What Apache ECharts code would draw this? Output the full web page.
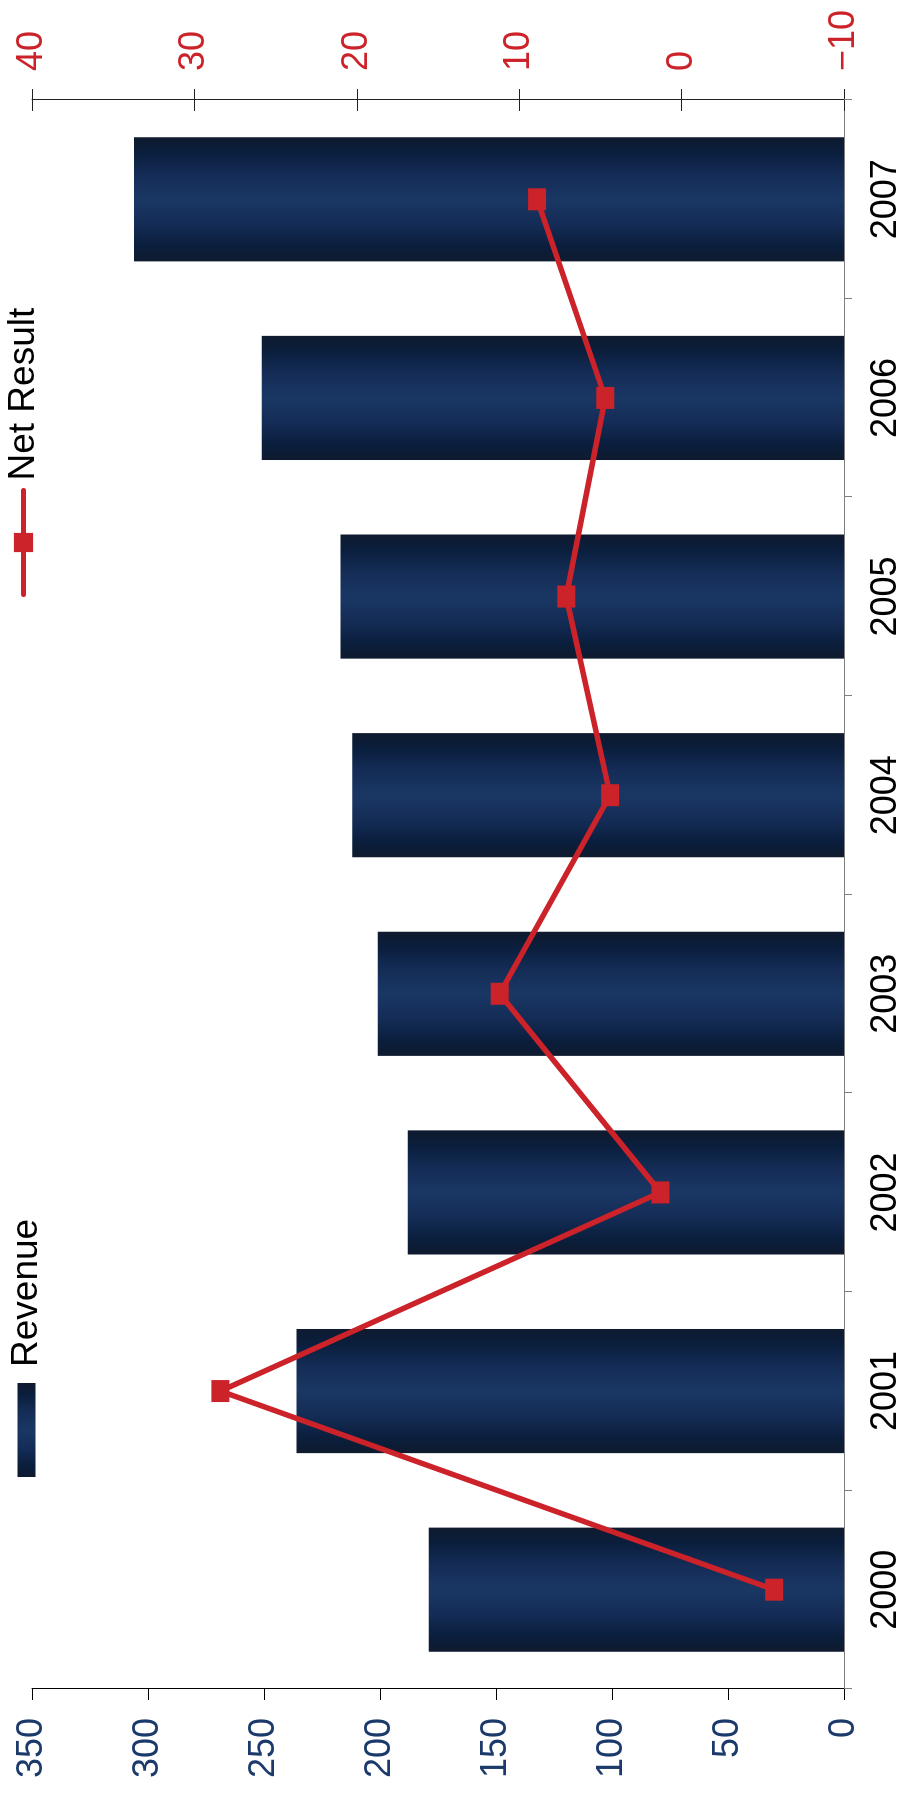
<!DOCTYPE html>
<html><head><meta charset="utf-8">
<script src="https://cdn.jsdelivr.net/npm/echarts@6/dist/echarts.min.js"></script>
<style>
html,body{margin:0;padding:0;background:#fff;overflow:hidden;width:906px;height:1798px;}
#wrap{position:absolute;left:0;top:0;width:1798px;height:906px;transform-origin:0 0;transform:translateY(1798px) rotate(-90deg);}
</style></head><body><div id="wrap"></div>
<script>
const years = ['2000', '2001', '2002', '2003', '2004', '2005', '2006', '2007'];
const revenue = [179, 236, 188, 201, 212, 217, 251, 306];
const netResult = [-5.7, 28.4, 1.3, 11.2, 4.4, 7.1, 4.7, 8.9];
const revenueAxis = { min: 0, max: 350, interval: 50 };
const netAxis = { min: -10, max: 40, interval: 10 };

const FONT = 'Liberation Sans';
const barGrad = new echarts.graphic.LinearGradient(0, 0, 1, 0, [
  { offset: 0, color: '#0f1a2e' },
  { offset: 0.12, color: '#0a1e3c' },
  { offset: 0.3, color: '#142c56' },
  { offset: 0.5, color: '#1a3764' },
  { offset: 0.7, color: '#142c56' },
  { offset: 0.88, color: '#0a1e3c' },
  { offset: 1, color: '#0f1a2e' }
]);

const chart = echarts.init(document.getElementById('wrap'), null, { renderer: 'canvas', width: 1798, height: 906 });
chart.setOption({
  animation: false,
  backgroundColor: '#ffffff',
  textStyle: { fontFamily: FONT },
  grid: { left: 109, right: 100, top: 32, bottom: 62 },
  legend: [
    {
      data: ['Revenue'], left: 321, top: 8, padding: 0, icon: 'rect',
      itemWidth: 94, itemHeight: 18,
      textStyle: { fontFamily: FONT, fontSize: 37, color: '#000', padding: [0, 0, 0, 11] }
    },
    {
      data: ['Net Result'], left: 1201, top: 5, padding: 0,
      itemWidth: 104, itemHeight: 24,
      lineStyle: { width: 5, cap: 'round' },
      textStyle: { fontFamily: FONT, fontSize: 37, color: '#000', padding: [0, 0, 0, 5] }
    }
  ],
  xAxis: {
    type: 'category', data: years, boundaryGap: true,
    axisLine: { show: true, lineStyle: { color: '#7f7f7f', width: 1 } },
    axisTick: { show: true, length: 8, lineStyle: { color: '#7f7f7f' } },
    axisLabel: { color: '#000', fontSize: 36, fontFamily: FONT, margin: 24 },
    splitLine: { show: false }
  },
  yAxis: [
    {
      type: 'value', position: 'left', min: revenueAxis.min, max: revenueAxis.max, interval: revenueAxis.interval,
      axisLine: { show: true, lineStyle: { color: '#000', width: 1 } },
      axisTick: { show: true, length: 11, lineStyle: { color: '#000' } },
      axisLabel: { color: '#1b3a6b', fontSize: 36, fontFamily: FONT, margin: 29 },
      splitLine: { show: false }
    },
    {
      type: 'value', position: 'right', min: netAxis.min, max: netAxis.max, interval: netAxis.interval,
      axisLine: { show: true, lineStyle: { color: '#222', width: 1 } },
      axisTick: { show: true, length: 11, lineStyle: { color: '#222' } },
      axisLabel: {
        color: '#cc2229', fontSize: 36, fontFamily: FONT, margin: 29,
        formatter: function (v) { return String(v).replace('-', '\u2212'); }
      },
      splitLine: { show: false }
    },
    {
      type: 'value', position: 'right', offset: 0, min: netAxis.min, max: netAxis.max, interval: netAxis.interval,
      axisLine: { show: false },
      axisTick: { show: true, inside: true, length: 11, lineStyle: { color: '#222' } },
      axisLabel: { show: false },
      splitLine: { show: false }
    }
  ],
  series: [
    {
      name: 'Revenue', type: 'bar', yAxisIndex: 0, data: revenue,
      barCategoryGap: '37.5%',
      itemStyle: { color: barGrad }
    },
    {
      name: 'Net Result', type: 'line', yAxisIndex: 1, data: netResult,
      symbol: 'rect', symbolSize: [22, 18], showSymbol: true,
      lineStyle: { color: '#cc2229', width: 5.5 },
      itemStyle: { color: '#cc2229' },
      z: 5
    }
  ]
});
</script></body></html>
